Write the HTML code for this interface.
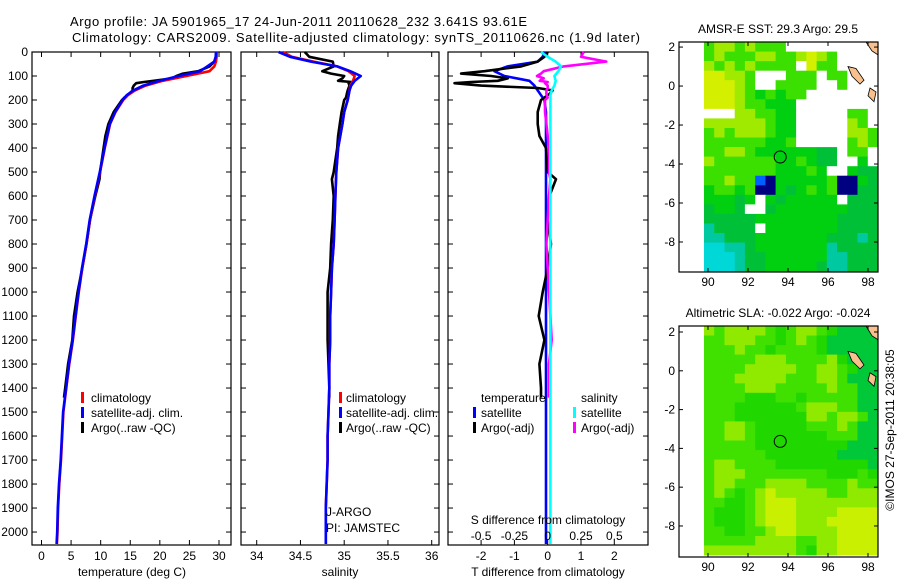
<!DOCTYPE html>
<html><head><meta charset="utf-8"><style>
body{margin:0;background:#fff;}
svg{display:block;font-family:"Liberation Sans",sans-serif;}
text{fill:#000;}
</style></head><body>
<svg id="fig" width="900" height="580" viewBox="0 0 900 580">
<text x="70" y="26" font-size="13" textLength="457">Argo profile: JA 5901965_17 24-Jun-2011 20110628_232 3.641S 93.61E</text>
<text x="72" y="42" font-size="13" textLength="568">Climatology: CARS2009. Satellite-adjusted climatology: synTS_20110626.nc (1.9d later)</text>
<g id="panels"></g>
<text transform="translate(894,430) rotate(-90)" font-size="12" text-anchor="middle">©IMOS 27-Sep-2011 20:38:05</text>
</svg>
<script>
// ---- profile data ----
const climDepth=[0,20,40,60,80,100,120,140,160,180,200,250,300,400,500,600,700,800,900,1000,1100,1200,1300,1400,1500,1600,1700,1800,1900,2000,2050];
const climTemp=[29.6,29.6,29.5,29.2,28.4,24.5,20.5,17.6,15.8,14.6,13.8,12.5,11.6,10.7,9.9,9.0,8.2,7.6,6.9,6.3,5.8,5.3,4.7,4.2,3.7,3.5,3.3,3.0,2.8,2.7,2.6];
const satTemp=[29.5,29.45,29.2,28.0,26.8,23.2,19.95,17.2,15.5,14.4,13.7,12.45,11.55,10.65,9.85,8.95,8.15,7.55,6.85,6.25,5.75,5.25,4.65,4.15,3.65,3.45,3.25,2.95,2.75,2.65,2.55];
const climSal=[34.3,34.4,34.65,34.92,35.05,35.12,35.1,35.07,35.06,35.05,35.04,35.0,34.98,34.93,34.91,34.9,34.89,34.88,34.86,34.85,34.84,34.84,34.83,34.83,34.82,34.81,34.81,34.80,34.79,34.79,34.79];
const satSal=[34.25,34.38,34.62,34.92,35.07,35.19,35.12,35.08,35.06,35.05,35.04,35.0,34.98,34.93,34.91,34.9,34.89,34.88,34.86,34.85,34.84,34.84,34.83,34.83,34.82,34.81,34.81,34.80,34.79,34.79,34.79];
const satTempDiff=[-0.1,-0.15,-0.3,-1.2,-1.6,-1.3,-0.55,-0.4,-0.3,-0.2,-0.1,-0.05,-0.05,-0.05,-0.05,-0.05,-0.05,-0.05,-0.05,-0.05,-0.05,-0.05,-0.05,-0.05,-0.05,-0.05,-0.05,-0.05,-0.05,-0.05,-0.05];
const satSalDiff=[-0.05,0.0,0.06,0.1,0.08,0.05,0.06,0.05,0.03,0.02,0.02,0.02,0.02,0.02,0.02,0.02,0.02,0.02,0.02,0.02,0.02,0.02,0.02,0.02,0.02,0.02,0.02,0.02,0.02,0.02,0.02];
const argoDepth=[0,20,40,60,80,90,100,110,120,125,130,140,150,160,175,190,200,250,300,350,400,500,530,600,700,800,900,1000,1100,1200,1300,1400,1440];
const argoTemp=[29.6,29.5,29.2,28.4,26.5,23.9,22.8,22.0,19.0,17.3,16.0,15.6,15.4,15.4,14.8,14.0,13.6,12.2,11.3,10.8,10.5,9.9,9.8,9.1,8.2,7.6,6.9,6.1,5.5,5.2,4.5,4.0,3.8];
const argoSal=[34.55,34.6,34.87,34.88,34.75,34.85,35.0,34.98,34.93,35.08,35.05,35.06,35.05,35.04,35.03,35.02,35.0,34.97,34.95,34.93,34.92,34.88,34.86,34.88,34.87,34.85,34.84,34.81,34.81,34.81,34.82,34.83,34.83];
const argoTempDiff=[0,-0.1,-0.3,-0.8,-1.9,-2.6,-1.7,-1.2,-1.5,-2.3,-2.8,-2.0,-0.3,0.15,0.05,-0.1,-0.2,-0.3,-0.3,-0.25,-0.05,0.0,0.25,0.05,0.0,0.1,0.0,-0.15,-0.27,-0.1,-0.25,-0.2,-0.2];
const argoSalDiff=[0.27,0.25,0.44,0.12,-0.03,-0.05,-0.08,-0.03,-0.06,0.0,-0.02,0.0,0.0,-0.01,-0.01,0.0,-0.02,-0.02,-0.01,0.0,0.01,0.01,0.02,0.01,0.0,-0.01,0.0,0.01,0.02,0.03,0.01,0.01,0.01];
const depthTicks=[0,100,200,300,400,500,600,700,800,900,1000,1100,1200,1300,1400,1500,1600,1700,1800,1900,2000];
const tempTicks=[0,5,10,15,20,25,30];
const salTicks=[34,34.5,35,35.5,36];
const tDiffTicks=[-2,-1,0,1,2];
const sDiffTicks=[-0.5,-0.25,0,0.25,0.5];
// ---- map data ----
const sstGrid=[
"GLLGLGGGWWWWWWWWW","GLGGGLLGGLYLGWWWW","LGLGLGGGGWYGGWWWW","YYLLGWWWGGGWGGWWW",
"YYYLGWWGGGGWWGWWW","YYYLGgGgGGWWWWWWW","YYYLGGgggWWWWWWWW","WWWLLGGggWWWWWGGW",
"LLLLLLGggWWWWWLGW","GLGLLLGggWWWWWLLG","GGGGGGggGWWWWWGLG","GGLLGggggggDDWGGW",
"LGGGGGGggGgDDWWgW","GGGGGGGgggGgWWgDD","GGLGGBNgggggGNNgD","gGGgGNNgDgGgGNNDD",
"gggDgWgDgggggWDDD","DggDWWDgggggggDDD","DDDDDggggggggDDDD","TDDDDWgggggggDDDD",
"TTDDDgggggggDDDTD","CCTTDgggggggTDDDD","CCCTDDggggggTTDDD","CCCTDDgggggDTTDDD"];
const slaGrid=[
"LGLLLLGgGLLGgDDDD","GGLLLGGgGLGgDDDDD","GGGLGGgGGGGgDDDDD","GGGGGLLLGGGGLgDDD",
"GGGGLLLLLGGLLGgDD","GGGLLLLLGGGLLGDDD","GGGGLLLGGGGGLGGDD","GGGGgggGGgGGGGGDD",
"GGGggggggGLLLGGDD","GGGgggggggLLGLLGD","GGLLGgggggGGGLGDD","GGLLGgggggggGGGDD",
"GGGGGgggggggggDDD","GGGGGGgggggggDDDD","GLLGGGGgggggggggD","GLLLGGGGGGGGgggGg",
"GLLGGGLLLLGGGGLGG","GLGgGLYLLLLLGGLLL","GGggGLYYYLLLLLLLL","GgggGLYYYLLLLYYYY",
"GgggGLYYYLLLYYYYY","GGggGGLYYLLLLYYYY","GGGGGLLLLGGLLYYYY","LLLLLLLLLGgLLYYYY"];
const mapLonTicks=[90,92,94,96,98];
const mapLatTicks=[2,0,-2,-4,-6,-8];
const argoLon=93.61, argoLat=-3.641;

const NS='http://www.w3.org/2000/svg';
const root=document.getElementById('panels');
function mk(tag,attrs,parent){const e=document.createElementNS(NS,tag);for(const k in attrs)e.setAttribute(k,attrs[k]);(parent||root).appendChild(e);return e;}
function lin(d0,d1,r0,r1){return v=>r0+(v-d0)*(r1-r0)/(d1-d0);}
const yD=lin(0,2054,52,545);

function panel(name,x0,x1,xs,xticks,labelTicks){
  const g=mk('g',{});
  
  
  mk('rect',{x:x0,y:52,width:x1-x0,height:493,fill:'none',stroke:'#000','stroke-width':1.2},g);
  depthTicks.forEach(d=>{const y=yD(d);
    mk('line',{x1:x0,x2:x0+5,y1:y,y2:y,stroke:'#000'},g);
    mk('line',{x1:x1-5,x2:x1,y1:y,y2:y,stroke:'#000'},g);
    if(labelTicks){const t=mk('text',{x:x0-4,y:y+4,'font-size':12,'text-anchor':'end'},g);t.textContent=d;
      
      }
  });
  xticks.forEach(v=>{const x=xs(v);
    mk('line',{x1:x,x2:x,y1:52,y2:57,stroke:'#000'},g);
    mk('line',{x1:x,x2:x,y1:540,y2:545,stroke:'#000'},g);
  });
  return g;
}
function poly(g,xs,xv,dv,color,name){
  const pts=xv.map((v,i)=>xs(v).toFixed(1)+','+yD(dv[i]).toFixed(1)).join(' ');
  const p=mk('polyline',{points:pts,fill:'none',stroke:color,'stroke-width':2.6,'stroke-linejoin':'round'},g);
  
  
}
function txt(g,x,y,s,name,anchor,size){const t=mk('text',{x:x,y:y,'font-size':size||12,'text-anchor':anchor||'start'},g);t.textContent=s;
  
  return t;}
function legendBar(g,x,y,color){mk('rect',{x:x,y:y-10,width:3,height:11,fill:color},g);}

// Temperature panel
const xT=lin(0,30,41.5,219);
let g=panel('temperature-panel',32,231,xT,tempTicks,true);
poly(g,xT,argoTemp,argoDepth,'#000','argo-temperature-line');
poly(g,xT,climTemp,climDepth,'#ff0000','climatology-temperature-line');
poly(g,xT,satTemp,climDepth,'#0000ff','satellite-temperature-line');
tempTicks.forEach(v=>txt(g,xT(v),560,v,'temperature-tick-label','middle'));
txt(g,132,576,'temperature (deg C)','temperature-axis-title','middle');
[['#ff0000','climatology'],['#0000ff','satellite-adj. clim.'],['#000','Argo(..raw -QC)']].forEach((e,i)=>{
  legendBar(g,81,402+i*15,e[0]);txt(g,91,402+i*15,e[1],'temperature-legend-entry');});

// Salinity panel
const xS=lin(34,35,256.7,344.2);
g=panel('salinity-panel',241,439,xS,salTicks,false);
poly(g,xS,argoSal,argoDepth,'#000','argo-salinity-line');
poly(g,xS,climSal,climDepth,'#ff0000','climatology-salinity-line');
poly(g,xS,satSal,climDepth,'#0000ff','satellite-salinity-line');
salTicks.forEach(v=>txt(g,xS(v),560,v,'salinity-tick-label','middle'));
txt(g,340,576,'salinity','salinity-axis-title','middle');
[['#ff0000','climatology'],['#0000ff','satellite-adj. clim.'],['#000','Argo(..raw -QC)']].forEach((e,i)=>{
  legendBar(g,339,402+i*15,e[0]);txt(g,346,402+i*15,e[1],'salinity-legend-entry');});
txt(g,326,516,'J-ARGO','pi-agency');
txt(g,326,532,'PI: JAMSTEC','pi-name');

// Difference panel
const xTd=lin(0,1,547.7,581);
const xSd=lin(0,0.25,547.7,581);
g=panel('difference-panel',448,648,xTd,tDiffTicks,false);
poly(g,xTd,satTempDiff,climDepth,'#0000ff','satellite-temp-diff-line');
poly(g,xTd,argoTempDiff,argoDepth,'#000','argo-temp-diff-line');
poly(g,xSd,argoSalDiff,argoDepth,'#ff00ff','argo-sal-diff-line');
poly(g,xSd,satSalDiff,climDepth,'#00ffff','satellite-sal-diff-line');
tDiffTicks.forEach(v=>txt(g,xTd(v),560,v,'t-diff-tick-label','middle'));
sDiffTicks.forEach(v=>txt(g,xSd(v),540,v,'s-diff-tick-label','middle'));
txt(g,548,524,'S difference from climatology','s-diff-axis-title','middle');
txt(g,548,576,'T difference from climatology','t-diff-axis-title','middle');
txt(g,481,402,'temperature','legend-temperature-header');
txt(g,581,402,'salinity','legend-salinity-header');
legendBar(g,473,417,'#0000ff');txt(g,481,417,'satellite','legend-temp-satellite');
legendBar(g,473,432,'#000');txt(g,481,432,'Argo(-adj)','legend-temp-argo');
legendBar(g,573,417,'#00ffff');txt(g,581,417,'satellite','legend-sal-satellite');
legendBar(g,573,432,'#ff00ff');txt(g,581,432,'Argo(-adj)','legend-sal-argo');

// Maps
const sstColors={G:'#3ce000',L:'#a0ea00',Y:'#d4f000',g:'#00d010',D:'#00c038',T:'#00c8a0',C:'#00d8d8',W:'#ffffff',N:'#000080',B:'#0060ff'};
const slaColors={G:'#40e000',L:'#90ea00',Y:'#c8f000',g:'#20d800',D:'#00c838'};
function map(name,top,bot,grid,colors,title,latTopVal,latBotVal){
  const gm=mk('g',{});
  
  
  const xL=lin(88.55,98.5,679,878), yL=lin(latTopVal,latBotVal,top,bot);
  const nC=grid[0].length,nR=grid.length, lon0=89.8, dlon=(98.5-89.8)/nC, lat0=latTopVal, dlat=(lat0+9.5)/nR;
  grid.forEach((row,r)=>{[...row].forEach((c,k)=>{
    const xa=xL(lon0+k*dlon), xb=xL(lon0+(k+1)*dlon), ya=yL(lat0-r*dlat), yb=yL(lat0-(r+1)*dlat);
    const cell=mk('rect',{x:xa.toFixed(1),y:ya.toFixed(1),width:(xb-xa+0.5).toFixed(1),height:(yb-ya+0.5).toFixed(1),fill:colors[c]},gm);
    
    
  });});
  // land (islands, top right)
  mk('path',{d:`M${xL(97.9)},${yL(latTopVal)} L${xL(98.5)},${yL(latTopVal)} L${xL(98.5)},${yL(1.6)} L${xL(98.2)},${yL(1.8)} Z`,fill:'#f8c08c',stroke:'#000','stroke-width':0.8},gm);
  mk('path',{d:`M${xL(97.0)},${yL(1.0)} L${xL(97.4)},${yL(0.9)} L${xL(97.8)},${yL(0.3)} L${xL(97.6)},${yL(0.1)} L${xL(97.2)},${yL(0.5)} Z`,fill:'#f8c08c',stroke:'#000','stroke-width':0.8},gm);
  mk('path',{d:`M${xL(98.1)},${yL(-0.1)} L${xL(98.4)},${yL(-0.3)} L${xL(98.3)},${yL(-0.8)} L${xL(98.0)},${yL(-0.5)} Z`,fill:'#f8c08c',stroke:'#000','stroke-width':0.8},gm);
  mk('rect',{x:679,y:top,width:199,height:bot-top,fill:'none',stroke:'#000','stroke-width':1.2},gm);
  const c=mk('circle',{cx:xL(argoLon),cy:yL(argoLat),r:6,fill:'none',stroke:'#000','stroke-width':1},gm);
  
  
  mapLonTicks.forEach(v=>{const x=xL(v);
    mk('line',{x1:x,x2:x,y1:top,y2:top+4,stroke:'#000'},gm);mk('line',{x1:x,x2:x,y1:bot-4,y2:bot,stroke:'#000'},gm);
    txt(gm,x,bot+14,v,'map-lon-tick-label','middle');});
  mapLatTicks.forEach(v=>{const y=yL(v);
    mk('line',{x1:679,x2:683,y1:y,y2:y,stroke:'#000'},gm);mk('line',{x1:874,x2:878,y1:y,y2:y,stroke:'#000'},gm);
    txt(gm,675,y+4,v,'map-lat-tick-label','end');});
  txt(gm,778,top-9,title,'map-title','middle');
}
map('sst-map',42,272,sstGrid,sstColors,'AMSR-E SST: 29.3 Argo: 29.5',2.26,-9.54);
map('sla-map',326,557,slaGrid,slaColors,'Altimetric SLA: -0.022 Argo: -0.024',2.31,-9.6);
</script>
</body></html>
